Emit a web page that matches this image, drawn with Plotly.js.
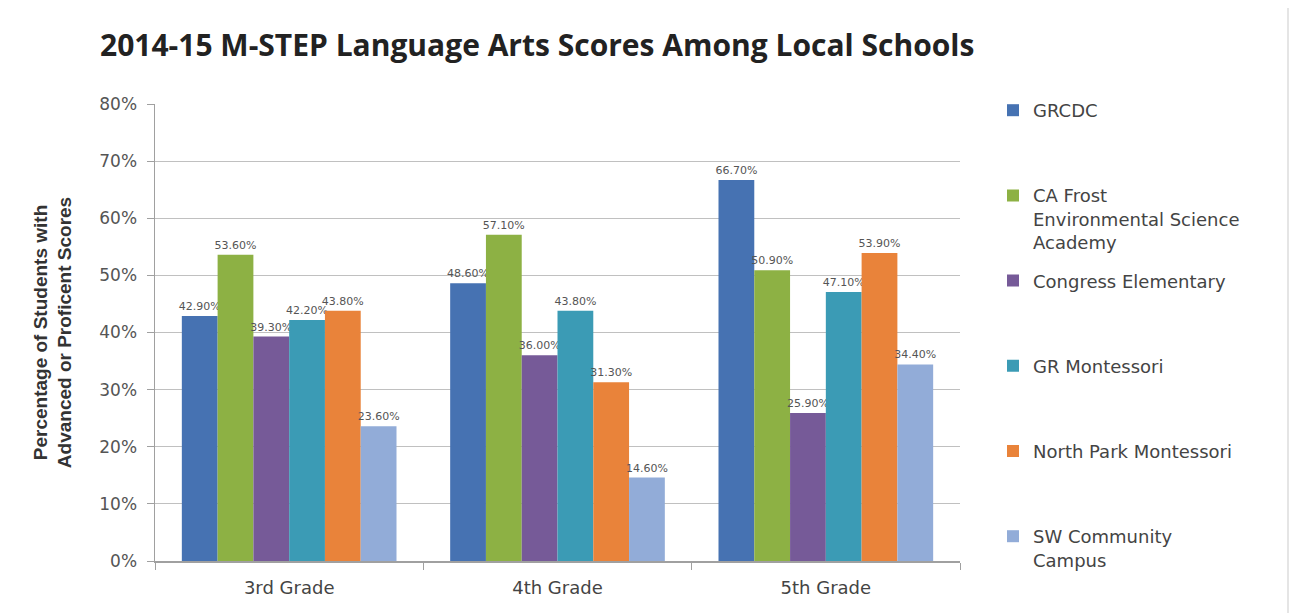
<!DOCTYPE html>
<html>
<head>
<meta charset="utf-8">
<script src="https://cdn.plot.ly/plotly-3.0.1.min.js"></script>
<style>html,body{margin:0;padding:0;background:#fff;}#chart{width:1291px;height:613px;}</style>
</head>
<body>
<div id="chart"></div>
<script>
const grades = ["3rd Grade", "4th Grade", "5th Grade"];
const schools = ["GRCDC", "CA Frost<br>Environmental Science<br>Academy", "Congress Elementary", "GR Montessori", "North Park Montessori", "SW Community<br>Campus"];
const grcdc = [42.9, 48.6, 66.7];
const caFrost = [53.6, 57.1, 50.9];
const congress = [39.3, 36.0, 25.9];
const grMontessori = [42.2, 43.8, 47.1];
const northPark = [43.8, 31.3, 53.9];
const swCommunity = [23.6, 14.6, 34.4];
const yTicks = [0, 10, 20, 30, 40, 50, 60, 70, 80];

const series = [grcdc, caFrost, congress, grMontessori, northPark, swCommunity];
const colors = ["#4672b2", "#8db144", "#765a98", "#3b9bb5", "#e9833a", "#92acd8"];

const traces = series.map((vals, i) => ({
  type: "bar",
  name: schools[i],
  x: grades,
  y: vals,
  marker: {color: colors[i]},
  text: vals.map(v => v.toFixed(2) + "%"),
  textposition: "outside",
  constraintext: "none",
  cliponaxis: false,
  textfont: {family: "DejaVu Sans", size: 11, color: "#555"},
  hoverinfo: "skip",
  legend: i === 0 ? "legend" : "legend" + (i + 1)
}));

const plotL = 155, plotR = 960, plotTop = 104, plotBottom = 561;
const plotW = plotR - plotL, plotH = plotBottom - plotTop;
const legendFirst = 107, legendStep = 85.2;
const layout = {
  width: 1291, height: 613,
  paper_bgcolor: "#fff", plot_bgcolor: "#fff",
  margin: {l: plotL, r: 1291 - plotR, t: plotTop, b: 613 - plotBottom},
  barmode: "group", bargap: 0.2, bargroupgap: 0,
  title: {
    text: "<b>2014-15 M-STEP Language Arts Scores Among Local Schools</b>",
    font: {family: "Open Sans", size: 30, color: "#222"},
    x: 100 / 1291, xanchor: "left", y: 1 - 45 / 613, yanchor: "middle"
  },
  xaxis: {
    showgrid: false, showline: true, linecolor: "#a0a0a0", linewidth: 1.5,
    ticks: "outside", tickson: "boundaries", ticklen: 7, tickcolor: "#a0a0a0",
    ticklabelstandoff: 10,
    tickfont: {family: "DejaVu Sans", size: 18, color: "#444"}
  },
  yaxis: {
    range: [0, 80], tickvals: yTicks, ticktext: yTicks.map(v => v + "%"),
    showgrid: true, gridcolor: "#c0c0c0", gridwidth: 1.2,
    showline: true, linecolor: "#a0a0a0", linewidth: 1.5,
    ticks: "outside", ticklen: 7, tickcolor: "#a0a0a0",
    ticklabelstandoff: 6,
    tickfont: {family: "DejaVu Sans", size: 17, color: "#555"},
    zeroline: false,
    title: {
      text: "<b>Percentage of Students with<br>Advanced or Proficent Scores</b>",
      font: {family: "Liberation Sans Narrow, Liberation Sans", size: 19, color: "#333"},
      standoff: 22
    }
  },
  shapes: [{
    type: "line", xref: "paper", yref: "paper",
    x0: (1288 - plotL) / plotW, x1: (1288 - plotL) / plotW,
    y0: (plotBottom - 613) / plotH, y1: (plotBottom - 8) / plotH,
    line: {color: "#dcdcdc", width: 1.5}
  }],
  showlegend: true
};
schools.forEach((s, i) => {
  const key = i === 0 ? "legend" : "legend" + (i + 1);
  const centerPx = legendFirst + i * legendStep;
  layout[key] = {
    x: (993 - plotL) / plotW, xanchor: "left",
    y: (plotBottom - (centerPx - 15)) / plotH, yanchor: "top",
    valign: "top",
    font: {family: "DejaVu Sans", size: 18, color: "#444"},
    bgcolor: "rgba(0,0,0,0)", borderwidth: 0,
    itemwidth: 30
  };
});
Plotly.newPlot("chart", traces, layout, {displayModeBar: false, staticPlot: true});
</script>
</body>
</html>
